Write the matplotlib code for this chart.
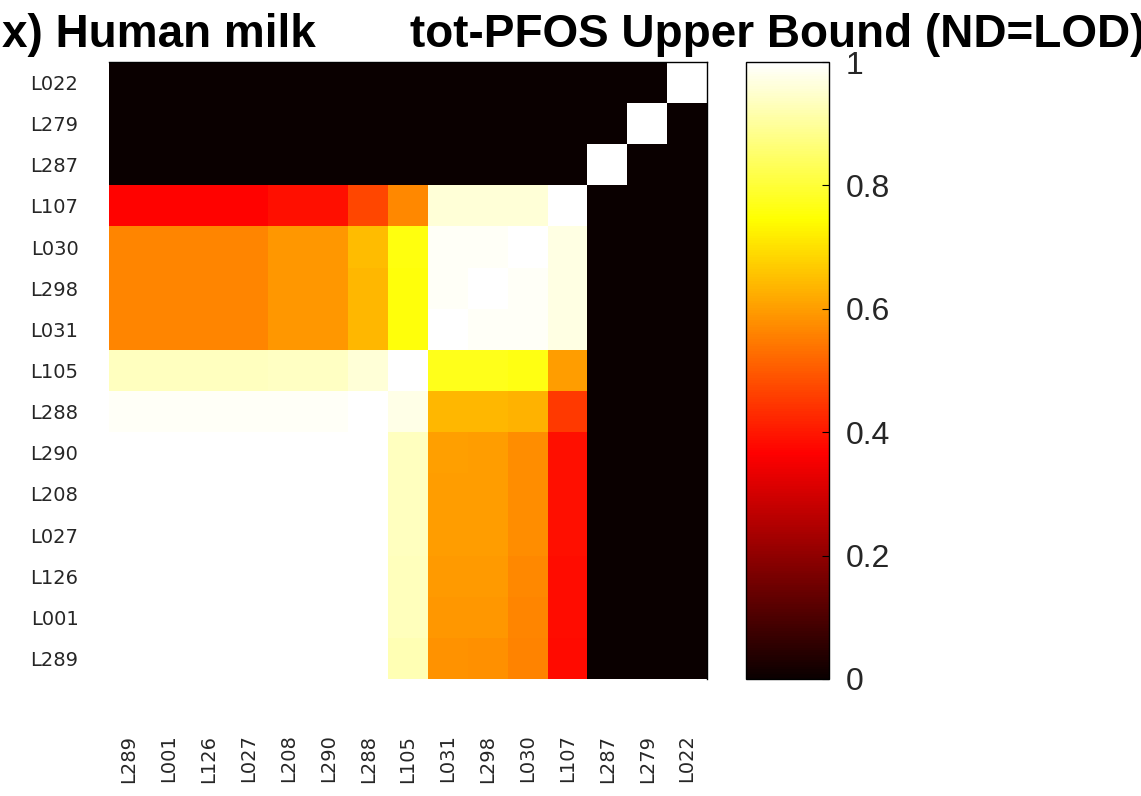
import numpy as np
import matplotlib
matplotlib.use("Agg")
import matplotlib.pyplot as plt

# sample labels, rows top to bottom, columns left to right
row_labels = ["L022", "L279", "L287", "L107", "L030", "L298", "L031", "L105",
              "L288", "L290", "L208", "L027", "L126", "L001", "L289"]
col_labels = ["L289", "L001", "L126", "L027", "L208", "L290", "L288", "L105",
              "L031", "L298", "L030", "L107", "L287", "L279", "L022"]

# similarity values (0 = black, 1 = white)
r_L022 = [0, 0, 0, 0, 0, 0, 0, 0, 0, 0, 0, 0, 0, 0, 1.0]
r_L279 = [0, 0, 0, 0, 0, 0, 0, 0, 0, 0, 0, 0, 0, 1.0, 0]
r_L287 = [0, 0, 0, 0, 0, 0, 0, 0, 0, 0, 0, 0, 1.0, 0, 0]
r_L107 = [0.37, 0.37, 0.37, 0.37, 0.39, 0.39, 0.47, 0.57, 0.96, 0.96, 0.96, 1.0, 0, 0, 0]
r_L030 = [0.565, 0.565, 0.565, 0.565, 0.59, 0.59, 0.645, 0.76, 0.99, 0.99, 1.0, 0.97, 0, 0, 0]
r_L298 = [0.565, 0.565, 0.565, 0.565, 0.59, 0.59, 0.64, 0.755, 0.99, 1.0, 0.99, 0.97, 0, 0, 0]
r_L031 = [0.565, 0.565, 0.565, 0.565, 0.59, 0.59, 0.64, 0.755, 1.0, 0.99, 0.99, 0.97, 0, 0, 0]
r_L105 = [0.935, 0.935, 0.935, 0.935, 0.94, 0.94, 0.96, 1.0, 0.77, 0.77, 0.765, 0.6, 0, 0, 0]
r_L288 = [0.99, 0.99, 0.99, 0.99, 0.99, 0.99, 1.0, 0.975, 0.64, 0.64, 0.63, 0.45, 0, 0, 0]
r_L290 = [1.0, 1.0, 1.0, 1.0, 1.0, 1.0, 1.0, 0.935, 0.605, 0.6, 0.575, 0.39, 0, 0, 0]
r_L208 = [1.0, 1.0, 1.0, 1.0, 1.0, 1.0, 1.0, 0.935, 0.6, 0.6, 0.575, 0.39, 0, 0, 0]
r_L027 = [1.0, 1.0, 1.0, 1.0, 1.0, 1.0, 1.0, 0.935, 0.6, 0.6, 0.575, 0.39, 0, 0, 0]
r_L126 = [1.0, 1.0, 1.0, 1.0, 1.0, 1.0, 1.0, 0.93, 0.595, 0.595, 0.57, 0.385, 0, 0, 0]
r_L001 = [1.0, 1.0, 1.0, 1.0, 1.0, 1.0, 1.0, 0.93, 0.59, 0.59, 0.565, 0.385, 0, 0, 0]
r_L289 = [1.0, 1.0, 1.0, 1.0, 1.0, 1.0, 1.0, 0.925, 0.585, 0.58, 0.56, 0.38, 0, 0, 0]

corr = np.array([r_L022, r_L279, r_L287, r_L107, r_L030, r_L298, r_L031, r_L105,
                 r_L288, r_L290, r_L208, r_L027, r_L126, r_L001, r_L289])

cbar_ticks = [0, 0.2, 0.4, 0.6, 0.8, 1]
cbar_ticklabels = ["0", "0.2", "0.4", "0.6", "0.8", "1"]

W, H = 1141, 796
fig = plt.figure(figsize=(W / 100, H / 100), dpi=100)
plt.rcParams['font.family'] = ['Liberation Sans', 'DejaVu Sans']

ax = fig.add_axes([109 / W, 1 - 679 / H, 598 / W, 617 / H])
im = ax.imshow(corr, cmap='hot', vmin=0, vmax=1, aspect='auto', interpolation='nearest')
ax.set_xticks(range(len(col_labels)))
ax.set_xticklabels(col_labels, rotation=90, fontsize=14, color='#262626', family='DejaVu Sans')
ax.set_yticks(range(len(row_labels)))
ax.set_yticklabels(row_labels, fontsize=14, color='#262626', family='DejaVu Sans')
ax.tick_params(axis='x', length=0, pad=40)   # points, ~56 px gap under the image
ax.tick_params(axis='y', length=0, pad=22)
# only the top and right edges of the box show
ax.spines['left'].set_visible(False)
ax.spines['bottom'].set_visible(False)
ax.spines['top'].set_linewidth(1.0)
ax.spines['right'].set_linewidth(1.0)

cax = fig.add_axes([746 / W, 1 - 679 / H, 83 / W, 617 / H])
cb = fig.colorbar(im, cax=cax)
cb.set_ticks(cbar_ticks)
cb.set_ticklabels(cbar_ticklabels)
cb.ax.tick_params(labelsize=23, labelcolor='#262626', direction='in', length=5, width=0.8, pad=12)
cb.outline.set_linewidth(1.0)

# title in two pieces, the first runs off the left edge
fig.text(316 / W, 1 - 47 / H, "(ix) Human milk", ha='right', va='baseline',
         fontsize=33, fontweight='bold')
fig.text(410 / W, 1 - 47 / H, "tot-PFOS Upper Bound (ND=LOD)", ha='left', va='baseline',
         fontsize=33, fontweight='bold')

fig.savefig("out.png", dpi=100)
